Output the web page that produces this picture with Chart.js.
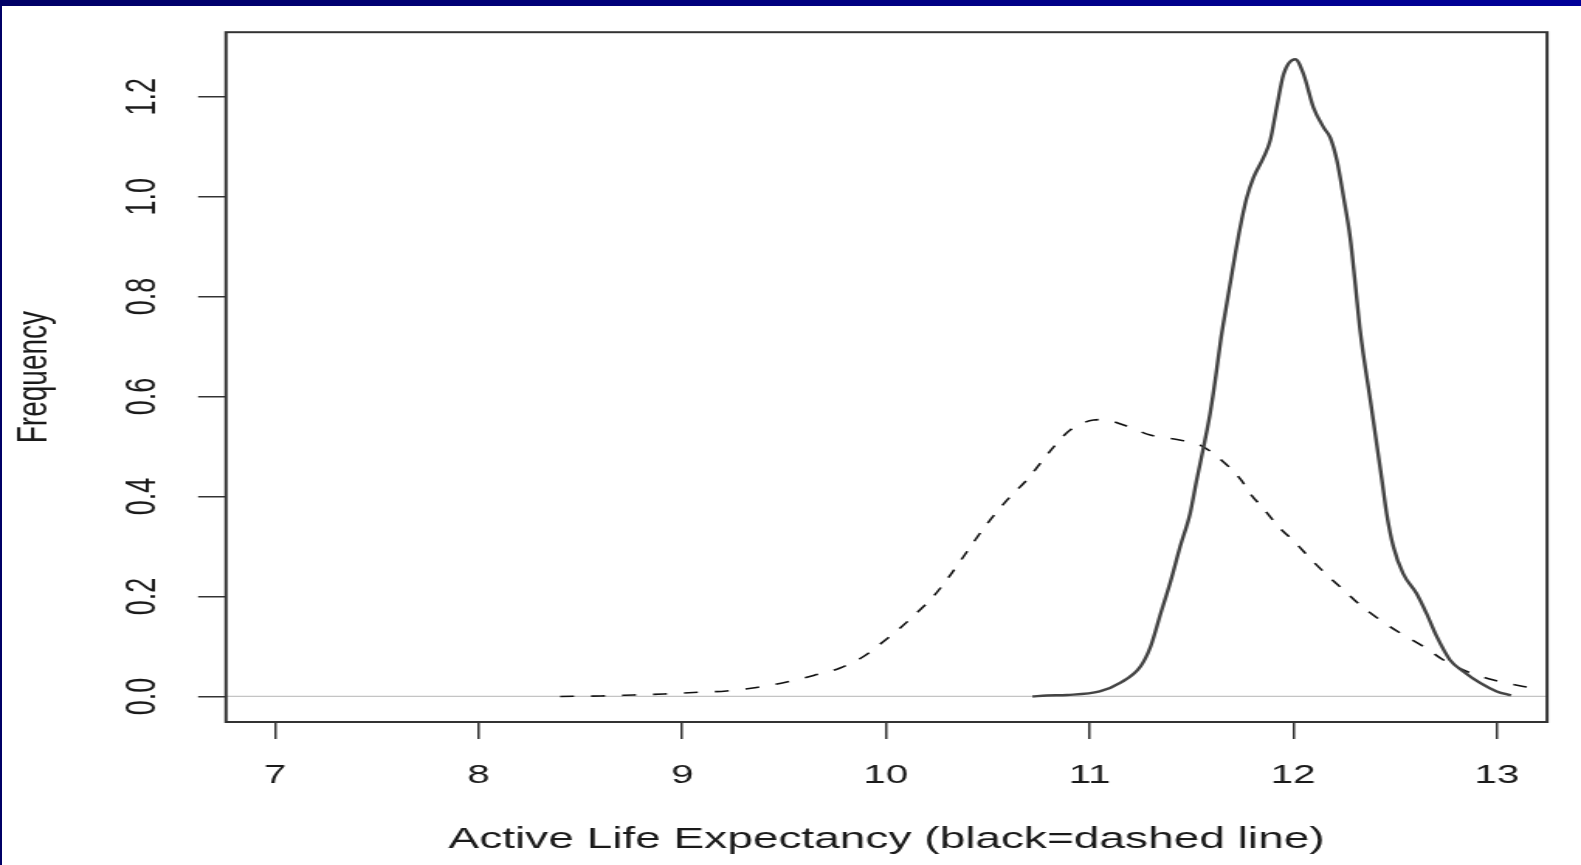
<!DOCTYPE html>
<html><head><meta charset="utf-8">
<script src="https://cdn.jsdelivr.net/npm/chart.js@4.4.1/dist/chart.umd.min.js"></script>
<style>
html,body{margin:0;padding:0;background:#fff;width:1581px;height:865px;overflow:hidden;}
#wrap{position:absolute;left:0;top:0;width:1020px;height:865px;transform:scaleX(1.55);transform-origin:0 0;}
#topbar{position:absolute;left:0;top:0;width:1581px;height:6px;background:linear-gradient(to right,#000066,#000099);z-index:2}
#leftbar{position:absolute;left:0;top:0;width:2px;height:865px;background:#000066;z-index:2}
</style></head><body>
<div id="wrap"><canvas id="c" width="1020" height="865"></canvas></div>
<div id="topbar"></div><div id="leftbar"></div>
<script>
// ---- data ----
const xTicks = [7, 8, 9, 10, 11, 12, 13];
const yTicks = [0, 0.2, 0.4, 0.6, 0.8, 1.0, 1.2];
const xTitle = 'Active Life Expectancy (black=dashed line)';
const yTitle = 'Frequency';

// solid density curve
const solidX = [10.72, 10.79, 10.89, 11.05, 11.15, 11.25, 11.30, 11.35, 11.40, 11.445, 11.494, 11.526, 11.56, 11.592, 11.617, 11.645, 11.674, 11.707, 11.740, 11.772, 11.805, 11.854, 11.887, 11.919, 11.953, 12.01, 12.051, 12.10, 12.15, 12.182, 12.215, 12.248, 12.28, 12.305, 12.329, 12.383, 12.436, 12.459, 12.492, 12.54, 12.606, 12.655, 12.705, 12.77, 12.836, 12.918, 13.0, 13.07];
const solidY = [0.0, 0.002, 0.003, 0.010, 0.027, 0.060, 0.100, 0.167, 0.233, 0.300, 0.366, 0.433, 0.499, 0.566, 0.632, 0.715, 0.786, 0.865, 0.939, 0.998, 1.038, 1.078, 1.112, 1.178, 1.245, 1.275, 1.245, 1.178, 1.138, 1.118, 1.072, 0.998, 0.918, 0.825, 0.732, 0.582, 0.433, 0.366, 0.300, 0.246, 0.206, 0.166, 0.120, 0.073, 0.050, 0.027, 0.010, 0.002];

// dashed density curve (black)
const dashedX = [8.40, 8.60, 8.76, 8.91, 9.055, 9.218, 9.365, 9.513, 9.645, 9.775, 9.89, 9.988, 10.07, 10.151, 10.233, 10.298, 10.364, 10.421, 10.479, 10.544, 10.618, 10.692, 10.757, 10.823, 10.905, 11.02, 11.069, 11.167, 11.298, 11.429, 11.543, 11.658, 11.745, 11.789, 11.854, 11.93, 12.01, 12.084, 12.166, 12.248, 12.329, 12.427, 12.525, 12.64, 12.738, 12.853, 12.984, 13.131, 13.17];
const dashedY = [0.000, 0.001, 0.003, 0.005, 0.008, 0.011, 0.018, 0.029, 0.042, 0.057, 0.080, 0.110, 0.137, 0.167, 0.200, 0.233, 0.270, 0.303, 0.336, 0.369, 0.403, 0.433, 0.466, 0.499, 0.533, 0.553, 0.554, 0.543, 0.523, 0.514, 0.503, 0.469, 0.433, 0.406, 0.376, 0.339, 0.308, 0.276, 0.243, 0.213, 0.183, 0.153, 0.127, 0.100, 0.073, 0.050, 0.033, 0.020, 0.018];

// ---- chart ----
const FONT = "'Liberation Sans', Arial, sans-serif";
const TXT = '#1a1a1a';
const toPts = (xs, ys) => xs.map((x, i) => ({x: x, y: ys[i]}));

const framePlugin = {
  id: 'frame',
  beforeDatasetsDraw(chart) {
    const {ctx, chartArea: a, scales: {y}} = chart;
    const py = y.getPixelForValue(0);
    ctx.save();
    ctx.strokeStyle = '#c4c4c4';
    ctx.lineWidth = 1.2;
    ctx.beginPath(); ctx.moveTo(a.left, py); ctx.lineTo(a.right, py); ctx.stroke();
    ctx.restore();
  },
  afterDraw(chart) {
    const {ctx, chartArea: a} = chart;
    ctx.save();
    ctx.strokeStyle = '#333';
    ctx.lineWidth = 2;
    ctx.strokeRect(a.left, a.top, a.right - a.left, a.bottom - a.top);
    ctx.restore();
  }
};

new Chart(document.getElementById('c'), {
  type: 'line',
  data: {
    datasets: [
      {data: toPts(solidX, solidY), borderColor: '#444', borderWidth: 2.4, pointRadius: 0, fill: false, cubicInterpolationMode: 'monotone'},
      {data: toPts(dashedX, dashedY), borderColor: '#111', borderWidth: 1.6, borderDash: [9, 11], pointRadius: 0, fill: false, cubicInterpolationMode: 'monotone'}
    ]
  },
  options: {
    responsive: false,
    devicePixelRatio: 1,
    animation: false,
    events: [],
    layout: {padding: {left: 0, right: 21.9, top: 31, bottom: 0}},
    plugins: {legend: {display: false}, tooltip: {enabled: false}},
    scales: {
      x: {
        type: 'linear', bounds: 'data', min: 6.759, max: 13.247,
        afterBuildTicks: s => { s.ticks = xTicks.map(v => ({value: v})); },
        afterFit: s => { s.height = 143; },
        ticks: {font: {family: FONT, size: 26}, color: TXT, padding: 21, maxRotation: 0, autoSkip: false, callback: v => String(v)},
        grid: {drawOnChartArea: false, tickLength: 17, color: '#333', lineWidth: 1.5},
        border: {display: false},
        title: {display: true, text: xTitle, font: {family: FONT, size: 29.7}, color: TXT, padding: {top: 0, bottom: 7.6}}
      },
      y: {
        type: 'linear', bounds: 'data', min: -0.0511, max: 1.329,
        afterBuildTicks: s => { s.ticks = yTicks.map(v => ({value: v})); },
        afterFit: s => { s.width = 145.8; },
        ticks: {font: {family: FONT, size: 27}, color: TXT, padding: 16, minRotation: 90, maxRotation: 90, crossAlign: 'center', autoSkip: false, callback: v => Number(v).toFixed(1)},
        grid: {drawOnChartArea: false, tickLength: 18, color: '#333', lineWidth: 1.5},
        border: {display: false},
        title: {display: true, text: yTitle, font: {family: FONT, size: 28}, color: TXT, padding: {top: 5.7, bottom: 0}}
      }
    }
  },
  plugins: [framePlugin]
});
</script>
</body></html>
